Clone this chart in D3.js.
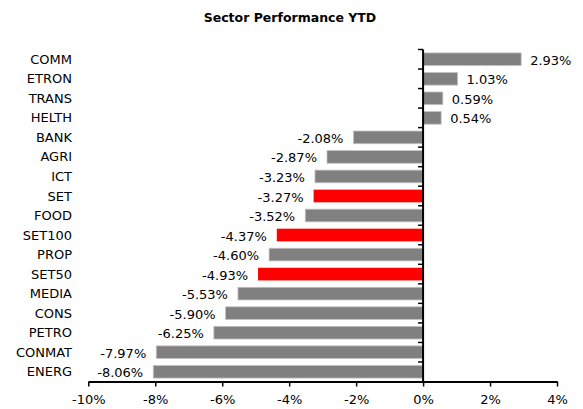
<!DOCTYPE html>
<html>
<head>
<meta charset="utf-8">
<script src="https://cdn.jsdelivr.net/npm/d3@7"></script>
<style>
  body { margin: 0; background: #fff; }
  svg text { font-family: "DejaVu Sans", Verdana, sans-serif; fill: #000; }
</style>
</head>
<body>
<div id="chart"></div>
<script>
// sector names, top to bottom
const sectors = ["COMM", "ETRON", "TRANS", "HELTH", "BANK", "AGRI", "ICT", "SET", "FOOD",
  "SET100", "PROP", "SET50", "MEDIA", "CONS", "PETRO", "CONMAT", "ENERG"];
// YTD change in %
const ytd = [2.93, 1.03, 0.59, 0.54, -2.08, -2.87, -3.23, -3.27, -3.52,
  -4.37, -4.60, -4.93, -5.53, -5.90, -6.25, -7.97, -8.06];
// index rows drawn in red
const indexRows = ["SET", "SET100", "SET50"];
const xTicks = [-10, -8, -6, -4, -2, 0, 2, 4];

const data = sectors.map((s, i) => ({name: s, value: ytd[i]}));

const W = 583, H = 409;
const margin = {top: 49.5, right: 26, bottom: 27.5, left: 88.3};

const svg = d3.select("#chart")
  .append("svg")
  .attr("width", W)
  .attr("height", H);

svg.append("text")
  .attr("x", 290)
  .attr("y", 22)
  .attr("text-anchor", "middle")
  .style("font-weight", "bold")
  .style("font-size", "12.5px")
  .text("Sector Performance YTD");

const x = d3.scaleLinear()
  .domain([-10, 4])
  .range([margin.left, W - margin.right]);

const y = d3.scaleBand()
  .domain(sectors)
  .range([margin.top, H - margin.bottom])
  .paddingInner(0.35)
  .paddingOuter(0.175);

// bars
svg.append("g")
  .selectAll("rect")
  .data(data)
  .enter()
  .append("rect")
    .attr("x", d => x(Math.min(0, d.value)))
    .attr("y", d => y(d.name))
    .attr("width", d => Math.abs(x(d.value) - x(0)))
    .attr("height", y.bandwidth())
    .attr("fill", d => indexRows.includes(d.name) ? "#ff0000" : "#808080")
    .attr("stroke", d => indexRows.includes(d.name) ? "none" : "#c4c4c4")
    .attr("stroke-width", 0.8);

// value labels
svg.append("g")
  .selectAll("text")
  .data(data)
  .enter()
  .append("text")
    .attr("x", d => d.value >= 0 ? x(d.value) + 9 : x(d.value) - 10)
    .attr("y", d => y(d.name) + y.bandwidth() / 2 + 1)
    .attr("dy", "0.35em")
    .attr("text-anchor", d => d.value >= 0 ? "start" : "end")
    .style("font-size", "13px")
    .text(d => d.value.toFixed(2) + "%");

// x axis
const xAxis = svg.append("g")
  .attr("transform", `translate(0,${H - margin.bottom})`)
  .call(d3.axisBottom(x).tickValues(xTicks).tickSize(5).tickSizeOuter(0)
    .tickFormat(d => d + "%"));
xAxis.select(".domain").attr("stroke", "#000").attr("stroke-width", 2);
xAxis.selectAll(".tick line").attr("stroke-width", 1.5);
xAxis.selectAll(".tick text")
  .attr("dy", "1.1em")
  .style("font-size", "13px")
  .style("font-family", "DejaVu Sans, sans-serif");

// y axis at zero, ticks between categories
const yAxis = svg.append("g")
  .attr("transform", `translate(${x(0)},0)`);
yAxis.append("line")
  .attr("y1", margin.top)
  .attr("y2", H - margin.bottom)
  .attr("stroke", "#000")
  .attr("stroke-width", 2);
const step = y.step();
yAxis.selectAll(".tk")
  .data(sectors)
  .enter()
  .append("line")
    .attr("x1", -5)
    .attr("x2", 0)
    .attr("y1", d => y(d) - step * 0.175)
    .attr("y2", d => y(d) - step * 0.175)
    .attr("stroke", "#000")
    .attr("stroke-width", 1.5);

// category labels
svg.append("g")
  .selectAll("text")
  .data(sectors)
  .enter()
  .append("text")
    .attr("x", 72)
    .attr("y", d => y(d) + y.bandwidth() / 2)
    .attr("dy", "0.35em")
    .attr("text-anchor", "end")
    .style("font-size", "13px")
    .text(d => d);
</script>
</body>
</html>
